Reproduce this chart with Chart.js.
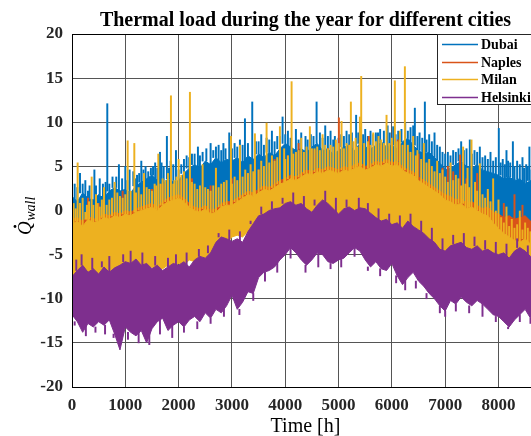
<!DOCTYPE html>
<html>
<head>
<meta charset="utf-8">
<script src="https://cdn.jsdelivr.net/npm/chart.js@4.4.0/dist/chart.umd.min.js"></script>
<style>
  html, body { margin: 0; padding: 0; background: #fff; overflow: hidden; }
  #wrap { width: 545px; height: 436px; }
</style>
</head>
<body>
<div id="wrap"><canvas id="thermalChart" width="545" height="436"></canvas></div>
<script>
const cities = ['Dubai', 'Naples', 'Milan', 'Helsinki'];
const cityColors = ['#0072BD', '#D95319', '#EDB120', '#7E2F8E'];
const xTicks = [0, 1000, 2000, 3000, 4000, 5000, 6000, 7000, 8000];
const yTicks = [-20, -15, -10, -5, 0, 5, 10, 15, 20];

// hour grid for the band edges (every 100 h)
const hours = Array.from({ length: 88 }, (_, i) => i * 100);

// upper / lower edge of each city's hourly band
const dubaiHigh = [
  1.6, 1.0, 2.0, 1.4, 1.2, 1.8, 1.4, 2.2, 2.6, 2.2,
  2.4, 2.0, 2.8, 3.2, 3.6, 4.0, 3.4, 3.0, 3.6, 3.2,
  3.4, 4.2, 4.8, 5.2, 4.8, 5.6, 5.2, 6.0, 5.4, 5.8,
  5.6, 6.0, 5.4, 6.2, 5.8, 6.4, 6.0, 6.6, 6.2, 7.0,
  7.6, 7.2, 6.8, 7.0, 6.6, 7.2, 7.6, 6.8, 7.0, 6.4,
  6.8, 7.2, 7.4, 6.8, 7.6, 7.2, 7.0, 7.4, 7.8, 7.2,
  7.4, 7.0, 7.8, 8.2, 7.4, 6.8, 6.4, 6.6, 6.0, 5.4,
  4.6, 4.8, 5.2, 5.6, 5.0, 4.8, 5.2, 4.6, 4.4, 4.2,
  4.0, 3.6, 3.8, 3.4, 3.6, 3.0, 3.4, 3.2
];
const dubaiLow = [
  -3.0, -3.4, -2.8, -3.2, -3.0, -2.6, -3.0, -2.8, -2.4, -2.6,
  -2.2, -2.6, -2.0, -2.4, -1.8, -2.0, -1.6, -1.8, -1.4, -1.6,
  -1.2, -1.6, -1.0, -1.4, -1.2, -0.8, -1.0, -0.6, -0.8, -0.4,
  -0.2, 0.0, -0.4, 0.2, 0.4, 0.0, 0.6, 0.4, 0.8, 1.0,
  1.2, 1.6, 1.4, 1.8, 1.6, 2.0, 1.8, 2.2, 2.0, 1.8,
  2.0, 2.2, 1.8, 2.4, 2.2, 2.6, 2.2, 2.4, 2.0, 2.2,
  2.0, 2.4, 2.2, 1.8, 1.6, 1.2, 0.8, 0.6, 0.2, 0.0,
  -0.2, 0.0, -0.4, -0.2, -0.6, -0.4, -0.8, -0.6, -1.0, -0.8,
  -1.0, -1.2, -1.0, -1.4, -1.2, -1.6, -1.4, -1.8
];
const naplesHigh = [
  -1.0, -0.8, -1.2, -0.6, -1.0, -0.8, -0.4, -0.6, -0.2, -0.4,
  0.0, -0.2, 0.2, 0.4, 0.6, 0.8, 0.4, 1.0, 1.4, 1.6,
  1.8, 1.4, 0.8, 0.4, 0.2, 0.6, 0.0, 0.2, 0.8, 1.0,
  1.0, 1.4, 1.8, 2.2, 2.0, 2.4, 2.8, 2.6, 3.0, 3.4,
  3.6, 4.0, 3.8, 4.2, 4.6, 4.4, 4.8, 4.6, 5.0, 4.8,
  4.6, 5.0, 4.8, 5.2, 5.4, 5.0, 5.2, 5.6, 5.4, 5.8,
  5.4, 5.6, 5.0, 4.6, 4.4, 3.8, 3.4, 3.0, 2.6, 2.2,
  1.8, 1.6, 1.2, 1.4, 0.8, 1.0, 0.6, 0.2, 0.4, -0.2,
  -0.4, -0.8, -0.6, -1.0, -0.8, -0.6, -1.2, -1.0
];
const naplesLow = [
  -4.2, -4.0, -4.4, -3.8, -4.0, -3.6, -3.8, -3.4, -3.6, -3.2,
  -3.4, -3.0, -3.2, -2.8, -2.6, -2.8, -2.4, -2.6, -2.2, -2.4,
  -2.0, -2.2, -2.4, -2.6, -2.8, -2.4, -2.6, -2.2, -2.0, -1.8,
  -1.6, -1.4, -1.0, -0.8, -0.6, -0.4, -0.2, 0.0, 0.2, 0.4,
  0.6, 0.8, 1.0, 1.2, 1.0, 1.4, 1.2, 1.6, 1.4, 1.2,
  1.4, 1.6, 1.2, 1.8, 1.6, 1.4, 1.8, 1.6, 1.4, 1.2,
  1.0, 1.2, 0.8, 0.6, 0.2, 0.0, -0.4, -0.8, -1.2, -1.6,
  -2.0, -2.2, -2.4, -2.6, -2.8, -3.0, -3.2, -3.4, -3.6, -3.8,
  -4.0, -4.2, -4.4, -4.2, -4.6, -4.4, -4.8, -4.6
];
const milanHigh = [
  -1.6, -1.2, -1.8, -1.0, -1.4, -1.2, -0.8, -1.0, -0.6, -0.8,
  -0.4, -0.6, -0.2, 0.0, 0.2, 0.4, 0.0, 0.6, 1.0, 1.2,
  1.4, 1.0, 0.4, 0.0, -0.2, 0.2, -0.4, -0.2, 0.4, 0.6,
  0.6, 1.0, 1.4, 1.8, 1.6, 2.0, 2.4, 2.2, 2.6, 3.0,
  3.2, 3.6, 3.4, 3.8, 4.2, 4.0, 4.4, 4.2, 4.6, 4.4,
  4.2, 4.6, 4.4, 4.8, 5.0, 4.6, 4.8, 5.2, 5.0, 5.4,
  5.0, 5.2, 4.6, 4.2, 4.0, 3.4, 3.0, 2.6, 2.2, 1.8,
  1.2, 1.0, 0.6, 0.8, 0.2, 0.4, 0.0, -0.4, -0.6, -1.4,
  -2.0, -2.6, -3.0, -3.4, -3.6, -3.2, -3.8, -3.4
];
const milanLow = [
  -7.8, -7.4, -8.0, -7.6, -7.8, -7.2, -7.6, -7.0, -7.4, -7.0,
  -6.8, -7.2, -6.6, -7.0, -6.8, -6.4, -6.8, -6.6, -6.2, -6.4,
  -6.0, -6.2, -5.6, -5.8, -5.2, -5.4, -5.0, -4.6, -4.2, -3.8,
  -3.0, -2.8, -3.0, -2.4, -2.2, -1.8, -1.6, -1.4, -1.2, -1.0,
  -0.8, -0.6, -0.8, -0.4, -0.6, -0.8, -0.4, -0.2, -0.4, -0.6,
  -0.6, -0.4, -0.8, -0.6, -0.4, -0.8, -1.0, -1.2, -1.6, -1.8,
  -2.0, -2.4, -2.2, -2.6, -3.0, -3.4, -3.8, -4.2, -4.6, -5.0,
  -5.4, -5.2, -5.6, -5.4, -5.8, -6.0, -5.8, -6.2, -6.0, -6.4,
  -6.6, -7.0, -7.4, -7.2, -7.6, -7.0, -7.4, -7.2
];
const helsinkiHigh = [
  -7.5, -6.8, -6.2, -7.0, -6.6, -7.2, -6.4, -7.0, -6.5, -6.2,
  -5.8, -6.0, -5.5, -6.2, -6.0, -6.6, -6.2, -6.8, -6.4, -6.0,
  -6.2, -5.8, -6.4, -5.6, -5.2, -5.4, -4.8, -3.6, -3.0, -3.2,
  -3.5, -3.2, -3.6, -2.4, -1.5, -0.6, -0.4, 0.0, 0.2, 0.3,
  0.8, 1.0, 0.6, 0.8, 0.2, -0.2, 0.6, 1.2, 0.8, 0.2,
  -0.4, 0.2, 0.4, 0.0, 0.3, 0.2, -0.3, -0.8, -1.2, -1.0,
  -1.6, -1.4, -2.0, -1.2, -1.8, -2.2, -2.6, -3.2, -3.6, -4.4,
  -4.6, -4.0, -3.8, -3.6, -4.2, -4.4, -4.0, -4.6, -4.4, -4.8,
  -5.0, -4.8, -5.4, -4.6, -4.2, -4.6, -5.2, -5.4
];
const helsinkiLow = [
  -11.8, -12.6, -13.8, -12.8, -13.2, -12.6, -13.0, -12.4, -14.0, -15.8,
  -13.2, -13.8, -14.2, -13.6, -15.0, -13.4, -12.6, -12.2, -13.6, -13.0,
  -12.6, -13.2, -12.4, -12.0, -12.6, -11.6, -12.2, -11.2, -11.6, -10.8,
  -9.6, -11.2, -10.4, -9.2, -9.4, -7.6, -7.0, -6.8, -6.4, -5.6,
  -5.0, -4.2, -4.8, -5.6, -6.2, -5.6, -4.8, -5.0, -5.8, -6.0,
  -5.6, -5.4, -4.8, -4.2, -4.6, -5.6, -6.4, -5.8, -6.6, -6.8,
  -6.0, -7.4, -8.4, -7.6, -7.0, -8.0, -8.6, -9.4, -10.0, -10.8,
  -11.4, -10.2, -10.6, -9.8, -10.4, -10.8, -10.2, -10.6, -11.2, -11.8,
  -12.0, -12.6, -13.2, -12.4, -11.8, -11.2, -12.2, -11.6
];

// single-hour peaks sticking out of the bands: [hour, value]
const dubaiPeaks = [
  [50, 3.0], [150, 4.2], [250, 3.4], [330, 2.8], [420, 4.6], [520, 3.6], [580, 3.0],
  [662, 12.1], [760, 3.8], [880, 5.2], [1000, 5.0], [1080, 4.6], [1150, 4.4], [1220, 4.0],
  [1300, 5.6], [1380, 5.0], [1480, 4.8], [1560, 5.4], [1650, 6.6], [1720, 5.0], [1780, 8.4],
  [1850, 5.6], [1950, 6.8], [2050, 5.2], [2150, 6.2], [2250, 6.4], [2362, 7.2], [2450, 6.6],
  [2600, 7.6], [2700, 7.2], [2800, 6.8], [2880, 7.0], [2950, 8.8], [3050, 7.6], [3150, 8.0],
  [3244, 10.4], [3381, 12.3], [3450, 7.8], [3550, 8.6], [3650, 8.2], [3750, 9.0], [3850, 8.4],
  [3950, 10.6], [4050, 9.0], [4200, 9.2], [4300, 8.8], [4380, 8.4], [4480, 8.6], [4588, 12.3],
  [4650, 8.8], [4750, 9.6], [4850, 9.0], [4931, 8.4], [5050, 8.6], [5150, 9.0], [5250, 8.8],
  [5330, 10.8], [5420, 9.4], [5500, 9.2], [5600, 9.0], [5700, 8.8], [5780, 9.2], [5920, 9.6],
  [6025, 9.5], [6120, 9.0], [6250, 10.0], [6350, 9.4], [6431, 11.6], [6520, 8.8], [6619, 12.3],
  [6700, 8.6], [6800, 8.8], [6900, 7.2], [7000, 6.4], [7050, 6.6], [7150, 6.8], [7300, 7.8],
  [7400, 7.0], [7462, 8.0], [7550, 6.8], [7650, 7.2], [7750, 6.2], [7850, 6.6], [7950, 6.0],
  [8006, 9.3], [8080, 5.8], [8150, 6.8], [8220, 5.4], [8270, 7.8], [8350, 5.6], [8450, 6.0],
  [8520, 5.2], [8580, 7.2]
];
// lower spikes in the noisy fringe just above the dense part
const dubaiFringe = [
  [100, 2.6], [200, 3.0], [300, 2.2], [450, 2.8], [630, 3.2], [700, 3.0], [830, 3.8], [940, 3.6],
  [1040, 3.4], [1190, 3.6], [1260, 4.2], [1340, 4.6], [1430, 4.4], [1520, 5.0], [1600, 4.8],
  [1680, 5.4], [1820, 4.8], [1900, 5.2], [2000, 4.6], [2100, 5.8], [2200, 6.0], [2300, 6.4],
  [2400, 6.2], [2520, 7.0], [2650, 6.8], [2750, 7.4], [2840, 7.6], [3000, 7.0], [3100, 7.2],
  [3200, 7.4], [3300, 7.6], [3500, 7.8], [3600, 7.4], [3700, 8.0], [3800, 7.8], [3900, 8.4],
  [4000, 8.6], [4100, 8.2], [4250, 8.0], [4420, 8.0], [4530, 8.4], [4700, 8.2], [4800, 8.4],
  [4900, 8.0], [5000, 8.2], [5100, 8.4], [5200, 8.6], [5370, 8.8], [5460, 8.6], [5550, 8.4],
  [5650, 8.6], [5740, 8.8], [5850, 9.0], [5960, 8.8], [6070, 8.6], [6180, 9.2], [6300, 9.0],
  [6400, 9.6], [6480, 8.4], [6570, 8.2], [6650, 8.0], [6750, 7.8], [6850, 7.4], [6950, 6.6],
  [7100, 6.2], [7200, 6.6], [7250, 7.0], [7350, 6.8], [7500, 6.4], [7600, 6.6], [7700, 6.0],
  [7800, 5.8], [7900, 5.6], [8040, 5.4], [8120, 5.2], [8180, 5.6], [8300, 5.0], [8400, 5.2],
  [8480, 4.8], [8550, 5.0], [8620, 4.6]
];
const naplesPeaks = [
  [300, 1.4], [500, 0.8], [950, 2.2], [1200, 1.8], [1500, 2.4], [1700, 3.0], [2050, 3.4],
  [2250, 3.6], [2600, 2.8], [3000, 3.6], [3300, 4.2], [3500, 4.6], [3800, 5.8], [4050, 6.2],
  [4250, 7.6], [4550, 6.8], [4800, 7.0], [5006, 10.5], [5200, 7.4], [5400, 8.9], [5569, 8.4],
  [5700, 7.0], [5800, 7.4], [6000, 7.8], [6112, 8.0], [6300, 6.6], [6500, 6.4], [6700, 5.2],
  [6950, 4.8], [7050, 5.0], [7150, 4.4], [7281, 6.3], [7400, 3.6], [7600, 4.2], [7800, 2.0],
  [8100, 0.8], [8300, 1.8], [8450, 0.6]
];
const milanPeaks = [
  [30, 0.8], [106, 5.4], [200, 1.4], [280, 0.6], [369, 3.8], [450, 1.8], [520, 0.4],
  [600, 2.6], [700, 1.2], [800, 3.2], [900, 1.6], [1044, 7.9], [1100, 2.2], [1169, 7.6],
  [1250, 2.6], [1350, 4.2], [1450, 2.4], [1550, 3.0], [1619, 6.4], [1700, 3.6], [1800, 4.2],
  [1856, 13.0], [1920, 3.4], [2000, 5.8], [2100, 4.4], [2212, 13.4], [2300, 3.0], [2450, 5.2],
  [2550, 2.4], [2700, 4.8], [2850, 3.2], [2981, 8.4], [3050, 3.8], [3150, 7.4], [3250, 4.6],
  [3350, 5.2], [3431, 8.7], [3550, 5.6], [3650, 9.9], [3750, 6.2], [3900, 9.5], [3980, 7.0],
  [4119, 14.6], [4200, 6.6], [4300, 8.2], [4400, 7.2], [4462, 9.5], [4550, 7.0], [4700, 8.6],
  [4850, 7.4], [4950, 8.0], [5056, 10.1], [5150, 7.6], [5231, 12.3], [5320, 8.2], [5400, 10.6],
  [5425, 15.2], [5550, 7.8], [5650, 8.8], [5750, 8.4], [5850, 7.6], [5900, 10.8], [6056, 14.7],
  [6150, 9.0], [6244, 16.3], [6300, 7.4], [6400, 8.4], [6480, 6.8], [6600, 7.6], [6700, 5.8],
  [6850, 5.6], [6950, 4.6], [7100, 5.4], [7200, 4.0], [7337, 7.2], [7420, 4.8], [7494, 8.0],
  [7560, 3.2], [7650, 5.3], [7800, 2.4], [7900, 3.6], [8000, 1.2], [8150, 0.4], [8250, -1.0],
  [8400, 0.0], [8500, -1.4]
];
const milanFringe = [
  [70, 0.2], [150, 0.8], [250, -0.2], [320, 1.0], [400, 0.6], [480, 0.8], [560, 1.2], [650, 0.6],
  [750, 1.4], [850, 2.0], [950, 1.4], [1000, 1.8], [1200, 2.0], [1300, 1.8], [1400, 2.6],
  [1500, 2.2], [1580, 2.8], [1660, 3.0], [1750, 3.4], [1900, 3.0], [1960, 3.8], [2050, 4.0],
  [2150, 3.6], [2250, 3.2], [2350, 2.4], [2400, 2.8], [2500, 2.6], [2600, 2.2], [2650, 2.8],
  [2750, 2.6], [2800, 3.0], [2900, 3.4], [3000, 3.0], [3100, 3.4], [3200, 3.8], [3300, 4.2],
  [3400, 4.4], [3500, 4.6], [3600, 5.0], [3700, 5.4], [3800, 5.6], [3850, 6.0], [4000, 5.8],
  [4050, 6.2], [4150, 6.4], [4250, 6.8], [4350, 6.6], [4500, 7.0], [4600, 7.2], [4650, 6.8],
  [4750, 7.4], [4800, 7.0], [4900, 7.2], [5000, 7.6], [5100, 7.0], [5200, 7.4], [5280, 7.8],
  [5350, 7.2], [5480, 7.6], [5600, 7.4], [5700, 7.8], [5800, 8.0], [5950, 7.6], [6000, 8.2],
  [6100, 7.8], [6200, 7.4], [6350, 6.6], [6450, 6.2], [6550, 5.8], [6650, 5.4], [6750, 5.0],
  [6800, 4.4], [6900, 4.2], [7000, 3.8], [7050, 3.2], [7150, 3.4], [7250, 3.6], [7300, 2.8],
  [7380, 3.0], [7450, 2.6], [7600, 2.2], [7700, 1.8], [7750, 1.4], [7850, 1.0], [7950, 0.0],
  [8050, -0.8], [8100, -1.4], [8200, -1.8], [8300, -2.0], [8350, -1.6], [8450, -2.2], [8550, -2.0],
  [8600, -2.4]
];
const helsinkiPeaks = [
  [80, -5.6], [180, -5.0], [380, -5.4], [560, -5.8], [700, -5.2], [960, -5.0], [1100, -4.6],
  [1320, -4.8], [1560, -5.2], [1800, -5.4], [1950, -5.0], [2150, -4.8], [2380, -4.4], [2550, -4.0],
  [2750, -2.6], [2950, -2.2], [3150, -2.4], [3350, -1.2], [3550, 0.4], [3750, 1.0], [3950, 1.4],
  [4150, 2.0], [4350, 1.6], [4550, 1.2], [4750, 2.2], [4950, 1.4], [5150, 1.2], [5380, 1.4],
  [5550, 0.8], [5750, 0.2], [5950, -0.4], [6150, -0.6], [6350, -0.4], [6550, -1.2], [6750, -2.0],
  [6950, -3.2], [7150, -2.8], [7350, -2.6], [7550, -3.0], [7750, -3.4], [7950, -3.6], [8150, -3.8],
  [8350, -3.2], [8550, -4.0]
];
const helsinkiDips = [
  [50, -13.0], [260, -14.2], [440, -13.8], [620, -14.0], [780, -14.4], [1050, -14.6], [1250, -15.0],
  [1450, -15.2], [1650, -14.0], [1880, -14.4], [2100, -13.8], [2350, -13.4], [2600, -12.8],
  [2850, -12.0], [3140, -11.8], [3400, -10.2], [3620, -8.0], [3850, -7.0], [4100, -5.4],
  [4380, -7.0], [4620, -6.4], [4850, -6.6], [5050, -6.4], [5300, -5.2], [5550, -6.8], [5780, -7.4],
  [6080, -8.2], [6250, -9.0], [6450, -8.8], [6650, -10.0], [6900, -11.6], [7000, -12.0],
  [7200, -11.4], [7450, -11.6], [7700, -12.0], [7950, -12.6], [8180, -13.4], [8400, -12.6],
  [8600, -12.8]
];

const serif = '"Liberation Serif", "DejaVu Serif", serif';

function bandDatasets(name, color, low, high, order) {
  return [
    {
      label: name + ' low',
      data: hours.map((h, i) => ({ x: h, y: low[i] })),
      borderColor: color,
      borderWidth: 1,
      pointRadius: 0,
      tension: 0,
      fill: false,
      order: order,
    },
    {
      label: name,
      data: hours.map((h, i) => ({ x: h, y: high[i] })),
      borderColor: color,
      backgroundColor: color,
      borderWidth: 1,
      pointRadius: 0,
      tension: 0,
      fill: '-1',
      order: order,
    },
  ];
}

// thin floating bars from the band edge out to the peak value
function peakDataset(name, color, peaks, edge, order) {
  return {
    type: 'bar',
    label: name + ' peaks',
    data: peaks.map(([h, v]) => ({ x: h, y: [edge[Math.round(h / 100)], v] })),
    backgroundColor: color,
    barThickness: 1.3,
    grouped: false,
    order: order,
  };
}

// title, axis labels, legend and plot box drawn straight on the canvas
const decorPlugin = {
  id: 'decor',
  beforeDraw(chart) {
    const ctx = chart.ctx;
    ctx.save();
    ctx.fillStyle = '#fff';
    ctx.fillRect(0, 0, chart.width, chart.height);
    ctx.restore();
  },
  afterDraw(chart) {
    const ctx = chart.ctx;
    const area = chart.chartArea;
    ctx.save();

    ctx.strokeStyle = '#000';
    ctx.lineWidth = 1;
    ctx.strokeRect(area.left + 0.5, area.top + 0.5, area.right - area.left, area.bottom - area.top);

    ctx.fillStyle = '#000';
    ctx.textAlign = 'center';
    ctx.textBaseline = 'alphabetic';
    ctx.font = 'bold 20px ' + serif;
    ctx.fillText('Thermal load during the year for different cities', (area.left + area.right) / 2, 26);

    ctx.font = '20px ' + serif;
    ctx.fillText('Time [h]', (area.left + area.right) / 2, 432);

    // y label: Q with a dot, subscript "wall"
    ctx.save();
    ctx.translate(31, 235);
    ctx.rotate(-Math.PI / 2);
    ctx.textAlign = 'left';
    ctx.font = 'italic 19px ' + serif;
    ctx.fillText('Q', 0, 0);
    const qw = ctx.measureText('Q').width;
    ctx.beginPath();
    ctx.arc(qw * 0.62, -16, 1.4, 0, Math.PI * 2);
    ctx.fill();
    ctx.font = 'italic 14px ' + serif;
    ctx.fillText('wall', qw + 0.5, 4);
    ctx.restore();

    // legend box in the top right corner
    const lx = 437, ly = 34;
    ctx.fillStyle = '#fff';
    ctx.fillRect(lx, ly, 120, 70);
    ctx.strokeStyle = '#262626';
    ctx.lineWidth = 1;
    ctx.strokeRect(lx + 0.5, ly + 0.5, 120, 70);
    ctx.font = 'bold 14px ' + serif;
    ctx.textAlign = 'left';
    ctx.textBaseline = 'middle';
    cities.forEach((name, i) => {
      const y = Math.round(44 + i * 17.5) + 0.5;
      ctx.strokeStyle = cityColors[i];
      ctx.lineWidth = 1.5;
      ctx.beginPath();
      ctx.moveTo(442, y);
      ctx.lineTo(478, y);
      ctx.stroke();
      ctx.fillStyle = '#000';
      ctx.fillText(name, 481, y + 1);
    });

    ctx.restore();
  },
};

function drawThermalChart() {
  const ctx = document.getElementById('thermalChart').getContext('2d');

  const datasets = [
    ...bandDatasets(cities[0], cityColors[0], dubaiLow, dubaiHigh, 4),
    ...bandDatasets(cities[1], cityColors[1], naplesLow, naplesHigh, 3),
    ...bandDatasets(cities[2], cityColors[2], milanLow, milanHigh, 2),
    ...bandDatasets(cities[3], cityColors[3], helsinkiLow, helsinkiHigh, 1),
    peakDataset(cities[0], cityColors[0], dubaiPeaks, dubaiHigh, 4),
    peakDataset(cities[0] + ' fringe', cityColors[0], dubaiFringe, dubaiHigh, 4),
    peakDataset(cities[1], cityColors[1], naplesPeaks, naplesHigh, 3),
    peakDataset(cities[2], cityColors[2], milanPeaks, milanHigh, 2),
    peakDataset(cities[2] + ' fringe', cityColors[2], milanFringe, milanHigh, 2),
    peakDataset(cities[3], cityColors[3], helsinkiPeaks, helsinkiHigh, 1),
    peakDataset(cities[3] + ' low', cityColors[3], helsinkiDips, helsinkiLow, 1),
  ];

  const tickFont = { family: serif, size: 17, weight: 'bold' };

  new Chart(ctx, {
    type: 'line',
    data: { datasets: datasets },
    options: {
      responsive: false,
      animation: false,
      devicePixelRatio: 1,
      layout: { padding: { top: 34, right: 6, left: 0, bottom: 0 } },
      plugins: {
        legend: { display: false },
        title: { display: false },
        tooltip: { enabled: false },
      },
      scales: {
        x: {
          type: 'linear',
          min: 0,
          max: 8760,
          offset: false,
          afterBuildTicks: (scale) => {
            scale.ticks = xTicks.map((v) => ({ value: v }));
          },
          afterFit: (scale) => { scale.height = 49; },
          ticks: {
            font: tickFont,
            color: '#262626',
            padding: 8,
            maxRotation: 0,
            autoSkip: false,
            callback: (v) => String(v),
          },
          grid: { color: '#555', lineWidth: 1, drawTicks: false, offset: false },
          border: { display: false },
        },
        y: {
          type: 'linear',
          min: -20,
          max: 20,
          afterBuildTicks: (scale) => {
            scale.ticks = yTicks.map((v) => ({ value: v }));
          },
          afterFit: (scale) => { scale.width = 72; },
          ticks: {
            font: tickFont,
            color: '#262626',
            padding: 9,
            callback: (v) => String(v),
          },
          grid: { color: '#555', lineWidth: 1, drawTicks: false },
          border: { display: false },
        },
      },
    },
    plugins: [decorPlugin],
  });
}

document.addEventListener('DOMContentLoaded', () => {
  drawThermalChart();
});
</script>
</body>
</html>
